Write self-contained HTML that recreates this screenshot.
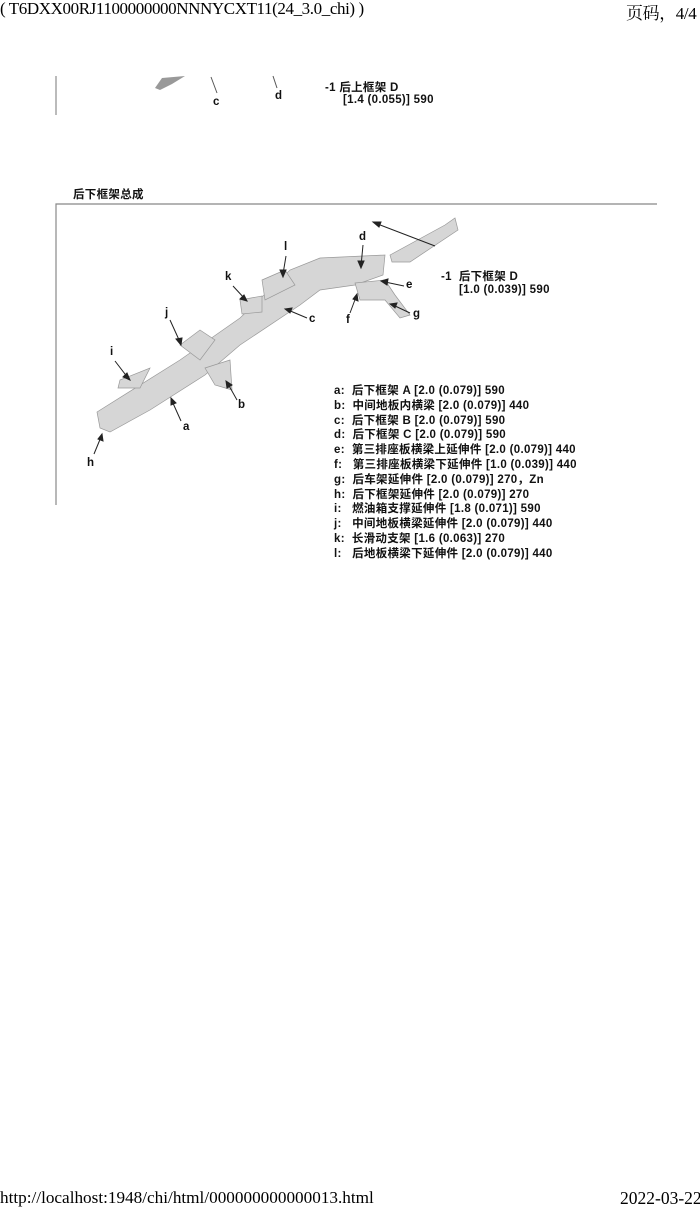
<!DOCTYPE html>
<html><head><meta charset="utf-8"><style>
html,body{margin:0;padding:0;background:#fff;width:700px;height:1209px;overflow:hidden}
.s{position:absolute;font-family:"Liberation Serif","Noto Serif CJK SC",serif;font-size:17px;color:#000;white-space:nowrap;letter-spacing:-0.4px}
.b{position:absolute;font-family:"Liberation Sans","Noto Sans CJK SC",sans-serif;font-size:11.5px;font-weight:bold;color:#111;white-space:nowrap;letter-spacing:0.3px}
</style></head><body>
<div class="s" style="left:0;top:-1px">( T6DXX00RJ1100000000NNNYCXT11(24_3.0_chi) )</div>
<div class="s" style="left:626px;top:-1px">页码，4/4</div>
<div class="s" style="left:0;top:1188px;font-size:17.2px;letter-spacing:0">http://localhost:1948/chi/html/000000000000013.html</div>
<div class="s" style="left:620px;top:1188px;font-size:17.5px;letter-spacing:0">2022-03-22</div>

<svg width="700" height="1209" style="position:absolute;left:0;top:0">
<line x1="56" y1="76" x2="56" y2="115" stroke="#777" stroke-width="1"/>
<polygon points="155,88 162,78 185,76 172,84 160,90" fill="#999"/>
<line x1="211" y1="77" x2="217" y2="93" stroke="#555"/>
<line x1="273" y1="76" x2="277" y2="88" stroke="#555"/>
<polyline points="56,505 56,204 657,204" fill="none" stroke="#888" stroke-width="1.2"/>
<g fill="#d6d6d6" stroke="#999" stroke-width="0.7">
<polygon points="97,412 180,360 240,318 290,270 320,258 385,255 383,275 355,285 320,290 300,305 240,345 205,375 150,410 110,432 100,428"/>
<polygon points="120,380 150,368 140,388 118,388"/>
<polygon points="180,345 200,330 215,340 200,360"/>
<polygon points="205,368 230,360 232,390 215,385"/>
<polygon points="240,300 262,296 262,312 242,314"/>
<polygon points="262,280 285,270 295,285 265,300"/>
<polygon points="355,283 385,280 395,295 410,315 400,318 385,300 360,300"/>
<polygon points="390,255 445,225 455,218 458,230 410,262 392,262"/>
</g>
<g stroke="#222" stroke-width="1" fill="#222">
<line x1="435" y1="246" x2="375" y2="223"/><polygon points="373,222 381,222 379,227"/>
<line x1="363" y1="245" x2="361" y2="266"/><polygon points="361,268 358,261 364,261"/>
<line x1="404" y1="286" x2="385" y2="282"/><polygon points="381,281 388,279 387,285"/>
<line x1="350" y1="313" x2="356" y2="297"/><polygon points="357,294 358,301 353,299"/>
<line x1="410" y1="313" x2="393" y2="305"/><polygon points="390,304 397,303 395,308"/>
<line x1="307" y1="318" x2="288" y2="310"/><polygon points="285,309 292,308 290,313"/>
<line x1="286" y1="256" x2="283" y2="274"/><polygon points="283,277 280,270 286,270"/>
<line x1="233" y1="286" x2="245" y2="299"/><polygon points="247,301 240,299 244,295"/>
<line x1="170" y1="320" x2="180" y2="342"/><polygon points="181,345 176,339 182,338"/>
<line x1="115" y1="361" x2="128" y2="378"/><polygon points="130,380 123,377 127,373"/>
<line x1="237" y1="400" x2="228" y2="384"/><polygon points="226,381 232,385 227,388"/>
<line x1="181" y1="421" x2="172" y2="401"/><polygon points="171,398 176,403 171,405"/>
<line x1="94" y1="454" x2="101" y2="437"/><polygon points="102,434 103,441 98,439"/>
</g>
</svg>

<div class="b" style="left:325px;top:79px">-1 后上框架 D</div>
<div class="b" style="left:343px;top:94px">[1.4 (0.055)] 590</div>
<div class="b" style="left:213px;top:96px">c</div>
<div class="b" style="left:275px;top:90px">d</div>
<div class="b" style="left:73px;top:186px">后下框架总成</div>

<div class="b" style="left:441px;top:268px">-1&nbsp; 后下框架 D</div>
<div class="b" style="left:459px;top:284px">[1.0 (0.039)] 590</div>
<div class="b" style="left:359px;top:231px">d</div>
<div class="b" style="left:406px;top:279px">e</div>
<div class="b" style="left:346px;top:314px">f</div>
<div class="b" style="left:413px;top:308px">g</div>
<div class="b" style="left:309px;top:313px">c</div>
<div class="b" style="left:284px;top:241px">l</div>
<div class="b" style="left:225px;top:271px">k</div>
<div class="b" style="left:165px;top:307px">j</div>
<div class="b" style="left:110px;top:346px">i</div>
<div class="b" style="left:238px;top:399px">b</div>
<div class="b" style="left:183px;top:421px">a</div>
<div class="b" style="left:87px;top:457px">h</div>

<div class="b" style="left:334px;top:384px;line-height:14.8px">
a:&nbsp; 后下框架 A [2.0 (0.079)] 590<br>
b:&nbsp; 中间地板内横梁 [2.0 (0.079)] 440<br>
c:&nbsp; 后下框架 B [2.0 (0.079)] 590<br>
d:&nbsp; 后下框架 C [2.0 (0.079)] 590<br>
e:&nbsp; 第三排座板横梁上延伸件 [2.0 (0.079)] 440<br>
f:&nbsp;&nbsp; 第三排座板横梁下延伸件 [1.0 (0.039)] 440<br>
g:&nbsp; 后车架延伸件 [2.0 (0.079)] 270，Zn<br>
h:&nbsp; 后下框架延伸件 [2.0 (0.079)] 270<br>
i:&nbsp;&nbsp; 燃油箱支撑延伸件 [1.8 (0.071)] 590<br>
j:&nbsp;&nbsp; 中间地板横梁延伸件 [2.0 (0.079)] 440<br>
k:&nbsp; 长滑动支架 [1.6 (0.063)] 270<br>
l:&nbsp;&nbsp; 后地板横梁下延伸件 [2.0 (0.079)] 440
</div>
</body></html>
